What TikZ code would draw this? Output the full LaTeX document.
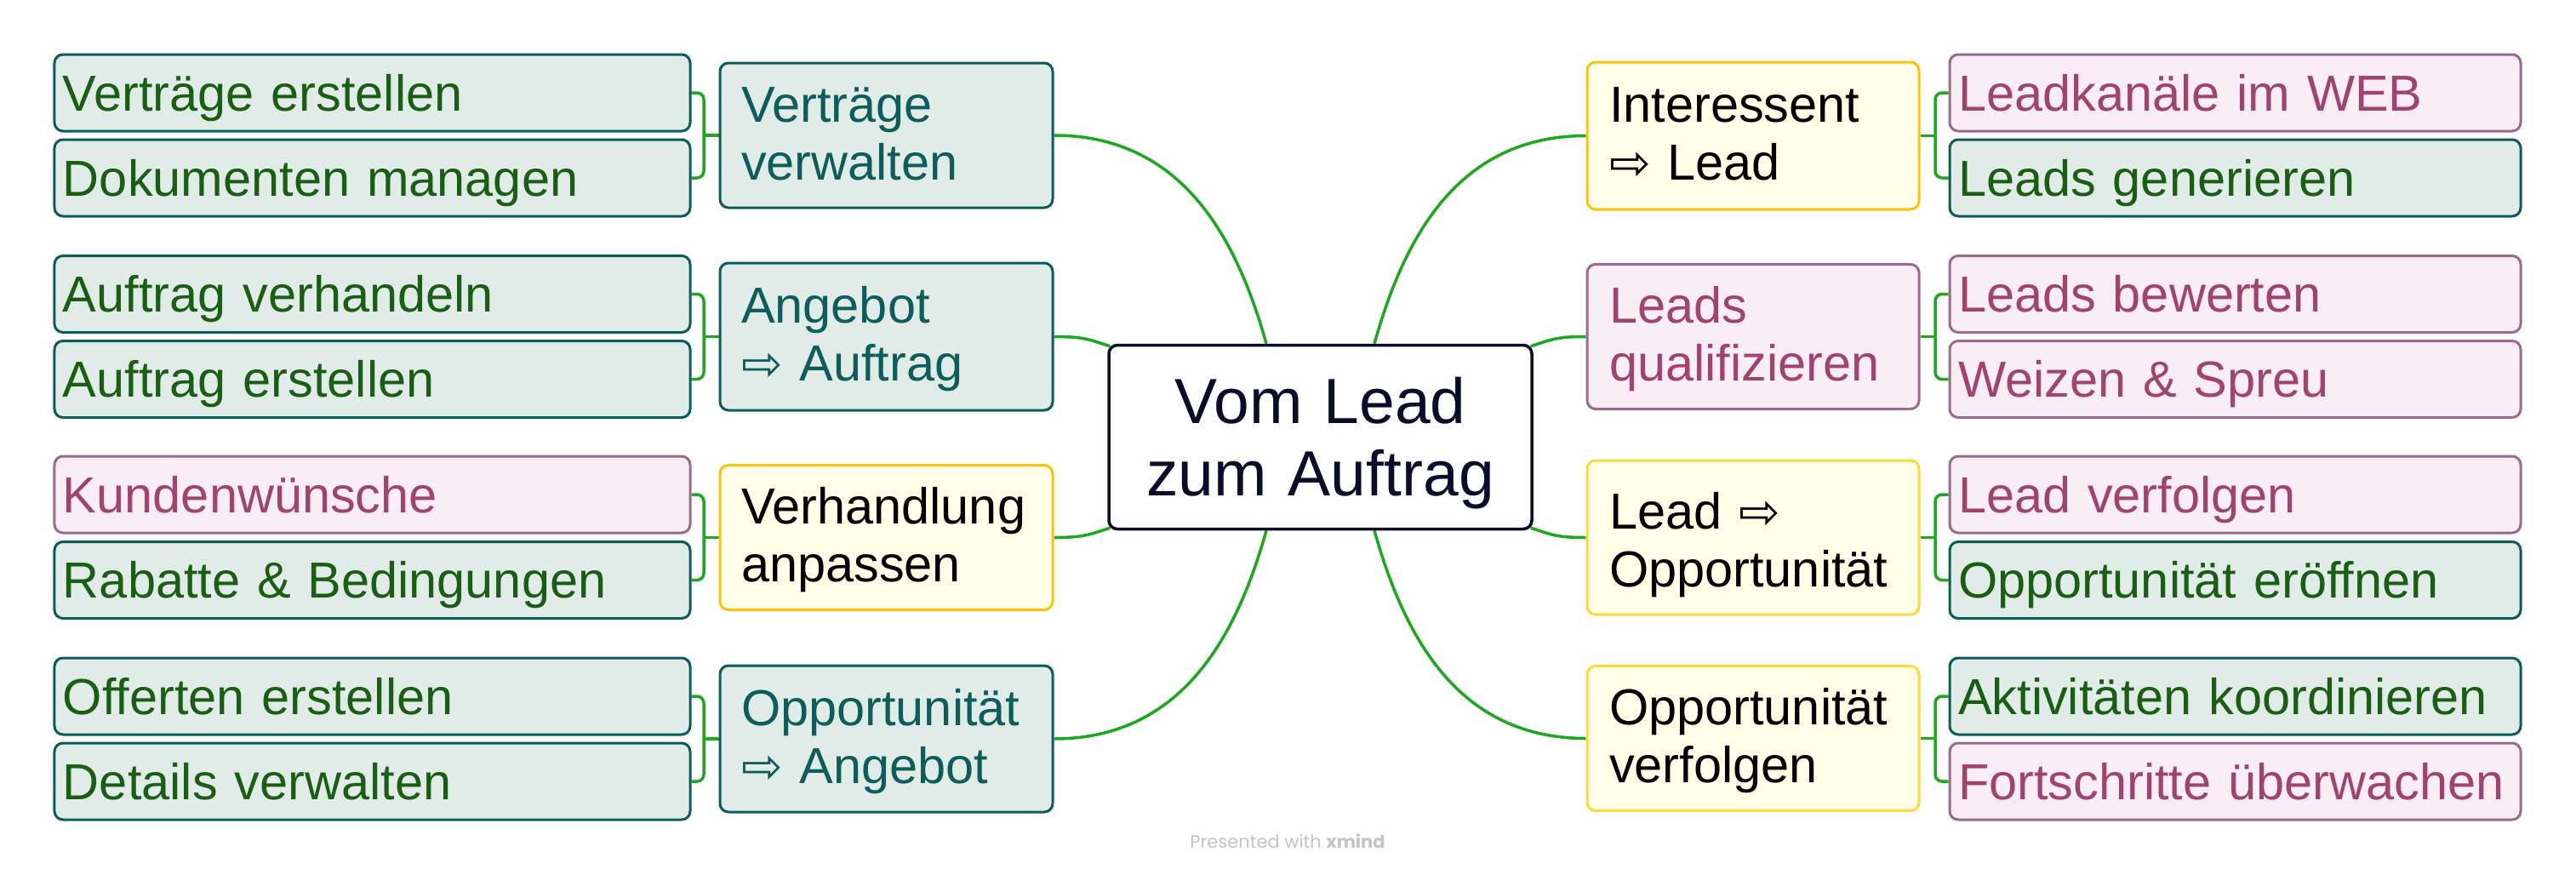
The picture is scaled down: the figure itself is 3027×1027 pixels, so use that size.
\documentclass[tikz,border=0pt]{standalone}
\usepackage{fontspec}
\setmainfont{Liberation Sans}
\newfontfamily\arrowfont{DejaVu Sans}
\newfontfamily\footfont{Poppins}
\usetikzlibrary{calc,backgrounds}
\definecolor{tealB}{HTML}{0C5C5A}
\definecolor{tealF}{HTML}{E1ECE9}
\definecolor{tealT}{HTML}{0D5E5B}
\definecolor{greenT}{HTML}{1A5E14}
\definecolor{pinkB}{HTML}{9A6B8A}
\definecolor{pinkF}{HTML}{F9EEF6}
\definecolor{pinkT}{HTML}{A2426F}
\definecolor{yelF}{HTML}{FFFEE6}
\definecolor{orangeB}{HTML}{FFC20A}
\definecolor{yellowB}{HTML}{FFD83C}
\definecolor{navy}{HTML}{0B0B2B}
\definecolor{connG}{HTML}{1DA91D}
\definecolor{footG}{HTML}{C4C4C4}
\newcommand\arr{{\arrowfont\fontsize{58bp}{68bp}\selectfont ⇨}}
\tikzset{
  box/.style={rectangle, rounded corners=10bp, line width=3bp, inner ysep=0pt, align=left,
    font=\fontsize{59.5bp}{68bp}\selectfont},
  leafL/.style={box, inner xsep=10bp, text width=727bp, minimum height=90bp, text height=42bp, text depth=0bp},
  leafR/.style={box, inner xsep=10bp, text width=651bp, minimum height=90bp, text height=42bp, text depth=0bp},
  mainL/.style={box, inner xsep=25bp, text width=341bp, minimum height=170bp, text height=42bp, text depth=74bp},
  mainR/.style={box, inner xsep=26bp, text width=338bp, minimum height=170bp, text height=42bp, text depth=74bp},
  teal/.style={draw=tealB, fill=tealF, text=greenT},
  tealm/.style={draw=tealB, fill=tealF, text=tealT},
  pink/.style={draw=pinkB, fill=pinkF, text=pinkT},
  yelo/.style={draw=orangeB, fill=yelF, text=black},
  yely/.style={draw=yellowB, fill=yelF, text=black},
  central/.style={rectangle, draw=navy, fill=white, text=navy, line width=3.5bp, rounded corners=10bp,
    inner xsep=20bp, inner ysep=0pt, text width=457bp, align=center, minimum height=216bp,
    font=\fontsize{75bp}{85bp}\selectfont, text height=54bp, text depth=87bp},
  conn/.style={draw=connG, line width=3.5bp},
  brk/.style={conn, rounded corners=8bp},
}
\begin{document}
\begin{tikzpicture}[x=1bp, y=-1bp]
\useasboundingbox (0,0) rectangle (3027,1027);
\begin{scope}[on background layer]
  \fill[white] (0,0) rectangle (3027,1027);
\end{scope}

% central
\node[central] (c) at (1551.5,513.5) {Vom Lead\hspace*{0.28em}\\zum Auftrag};

% left level 1
\node[mainL, tealm] (a1) at (1041.5,159) {Verträge\\verwalten};
\node[mainL, tealm, minimum height=173bp] (a2) at (1041.5,395.5) {Angebot\\\arr{} Auftrag};
\node[mainL, yelo] (a3) at (1041.5,631.5) {Verhandlung\\anpassen};
\node[mainL, tealm, minimum height=172bp] (a4) at (1041.5,868) {Opportunität\\\arr{} Angebot};

% left level 2
\node[leafL, teal] (a11) at (437.5,109) {Verträge erstellen};
\node[leafL, teal] (a12) at (437.5,209) {Dokumenten managen};
\node[leafL, teal] (a21) at (437.5,345.5) {Auftrag verhandeln};
\node[leafL, teal] (a22) at (437.5,445.5) {Auftrag erstellen};
\node[leafL, pink] (a31) at (437.5,581) {Kundenwünsche};
\node[leafL, teal] (a32) at (437.5,681.5) {Rabatte \& Bedingungen};
\node[leafL, teal] (a41) at (437.5,818) {Offerten erstellen};
\node[leafL, teal] (a42) at (437.5,918) {Details verwalten};

% right level 1
\node[mainR, yelo, minimum height=173bp] (b1) at (2060,159.5) {Interessent\\\arr{} Lead};
\node[mainR, pink] (b2) at (2060,395.5) {Leads\\qualifizieren};
\node[mainR, yely, minimum height=181bp, text depth=63bp] (b3) at (2060,631.5) {Lead \arr\\Opportunität};
\node[mainR, yely] (b4) at (2060,867.5) {Opportunität\\verfolgen};

% right level 2
\node[leafR, pink] (b11) at (2626.5,109) {Leadkanäle im WEB};
\node[leafR, teal] (b12) at (2626.5,209) {Leads generieren};
\node[leafR, pink] (b21) at (2626.5,345.5) {Leads bewerten};
\node[leafR, pink] (b22) at (2626.5,445.5) {Weizen \& Spreu};
\node[leafR, pink] (b31) at (2626.5,581) {Lead verfolgen};
\node[leafR, teal] (b32) at (2626.5,681.5) {Opportunität eröffnen};
\node[leafR, teal] (b41) at (2626.5,818) {Aktivitäten koordinieren};
\node[leafR, pink] (b42) at (2626.5,918) {Fortschritte überwachen};

% footer
\node[font=\footfont\fontsize{21bp}{24bp}\selectfont, text=footG, anchor=base, inner sep=0pt] (foot) at (1513,996) {Presented with \textbf{xmind}};

% anchor coordinates on the central topic
\coordinate (ctl) at ($(c.north)+(-63.5,0)$);
\coordinate (ctr) at ($(c.north)+(63.5,0)$);
\coordinate (cbl) at ($(c.south)+(-63.5,0)$);
\coordinate (cbr) at ($(c.south)+(63.5,0)$);
\coordinate (cnw) at ($(c.north west)+(3,3)$);
\coordinate (cne) at ($(c.north east)+(-3,3)$);
\coordinate (csw) at ($(c.south west)+(3,-3)$);
\coordinate (cse) at ($(c.south east)+(-3,-3)$);

% bracket junctions
\coordinate (ja1) at ($(a1.west)+(-17.5,0)$);
\coordinate (ja2) at ($(a2.west)+(-17.5,0)$);
\coordinate (ja3) at ($(a3.west)+(-17.5,0)$);
\coordinate (ja4) at ($(a4.west)+(-17.5,0)$);
\coordinate (jb1) at ($(b1.east)+(17.5,0)$);
\coordinate (jb2) at ($(b2.east)+(17.5,0)$);
\coordinate (jb3) at ($(b3.east)+(17.5,0)$);
\coordinate (jb4) at ($(b4.east)+(17.5,0)$);

\begin{scope}[on background layer]
  % main branches
  \draw[conn] (a1.east) .. controls +(150,0) and +(-35,-125) .. (ctl);
  \draw[conn] (a2.east) .. controls +(35,0) and +(-25,-8) .. (cnw);
  \draw[conn] (a3.east) .. controls +(35,0) and +(-25,8) .. (csw);
  \draw[conn] (a4.east) .. controls +(150,0) and +(-35,125) .. (cbl);
  \draw[conn] (b1.west) .. controls +(-150,0) and +(35,-125) .. (ctr);
  \draw[conn] (b2.west) .. controls +(-35,0) and +(25,-8) .. (cne);
  \draw[conn] (b3.west) .. controls +(-35,0) and +(25,8) .. (cse);
  \draw[conn] (b4.west) .. controls +(-150,0) and +(35,125) .. (cbr);
  % brackets left
  \draw[conn] (a1.west) -- (ja1);
  \draw[brk] (ja1) |- (a11.east);
  \draw[brk] (ja1) |- (a12.east);
  \draw[conn] (a2.west) -- (ja2);
  \draw[brk] (ja2) |- (a21.east);
  \draw[brk] (ja2) |- (a22.east);
  \draw[conn] (a3.west) -- (ja3);
  \draw[brk] (ja3) |- (a31.east);
  \draw[brk] (ja3) |- (a32.east);
  \draw[conn] (a4.west) -- (ja4);
  \draw[brk] (ja4) |- (a41.east);
  \draw[brk] (ja4) |- (a42.east);
  % brackets right
  \draw[conn] (b1.east) -- (jb1);
  \draw[brk] (jb1) |- (b11.west);
  \draw[brk] (jb1) |- (b12.west);
  \draw[conn] (b2.east) -- (jb2);
  \draw[brk] (jb2) |- (b21.west);
  \draw[brk] (jb2) |- (b22.west);
  \draw[conn] (b3.east) -- (jb3);
  \draw[brk] (jb3) |- (b31.west);
  \draw[brk] (jb3) |- (b32.west);
  \draw[conn] (b4.east) -- (jb4);
  \draw[brk] (jb4) |- (b41.west);
  \draw[brk] (jb4) |- (b42.west);
\end{scope}
\end{tikzpicture}
\end{document}
